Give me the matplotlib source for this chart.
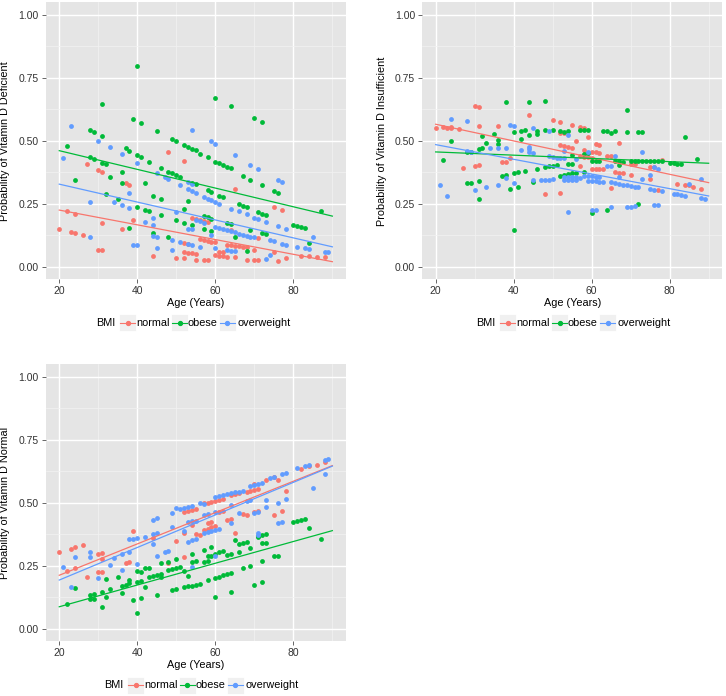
import numpy as np
import matplotlib
matplotlib.use('Agg')
import matplotlib.pyplot as plt
from matplotlib.patches import Rectangle
from matplotlib.lines import Line2D

plt.rcParams['font.family'] = ['Liberation Sans', 'DejaVu Sans']

## Data: (age, probability) per BMI group ##
groups = ['normal', 'obese', 'overweight']
colors = ['#F8766D', '#00BA38', '#619CFF']

# Panel 1: Vitamin D deficient
def_normal = [
    (20, .148), (22, .221), (23, .137), (24, .134), (24, .208), (26, .126), (27, .408),
    (30, .384), (31, .375), (30, .066), (31, .066), (31, .175), (36, .151), (37, .331), (38, .323),
    (39, .186), (44, .044), (48, .456), (52, .421),
    (50, .036), (52, .036), (52, .057), (53, .055), (54, .053), (55, .050), (52, .093), (53, .090),
    (55, .028), (57, .028), (58, .028),
    (54, .192), (55, .188), (56, .185), (57, .183), (58, .178), (56, .110), (57, .108), (58, .104),
    (59, .100), (60, .098),
    (60, .046), (61, .044), (62, .042), (63, .040), (61, .060), (62, .058), (63, .088), (64, .086),
    (65, .084), (66, .082), (67, .080),
    (64, .145), (65, .310), (65, .040), (68, .028), (70, .028), (71, .028), (68, .080), (70, .065),
    (71, .115), (75, .238), (77, .225), (75, .060), (76, .024), (78, .033), (82, .044), (84, .042),
    (86, .040), (88, .037)]
def_obese = [
    (22, .481), (24, .343), (28, .543), (29, .534), (28, .436), (29, .428), (31, .646), (31, .518),
    (31, .413), (32, .407), (32, .289), (33, .355), (35, .269), (36, .375), (36, .334), (37, .470),
    (38, .461), (38, .154), (39, .587), (40, .799), (40, .444), (41, .436), (41, .570), (40, .238),
    (42, .334), (43, .417), (42, .226), (43, .220), (44, .279), (44, .132), (45, .539), (46, .393),
    (46, .268), (46, .205),
    (48, .377), (49, .371), (50, .366), (51, .358), (48, .119), (49, .507), (50, .498), (50, .185),
    (52, .482), (53, .475), (54, .469), (55, .462), (56, .449), (52, .229), (53, .260), (52, .175),
    (54, .334), (55, .328), (54, .164),
    (58, .434), (57, .203), (58, .196), (59, .191), (57, .151), (58, .303), (59, .297), (59, .143),
    (60, .671), (60, .416), (61, .411), (62, .403), (63, .397), (64, .391), (61, .281), (62, .275),
    (64, .638), (63, .172), (64, .170), (65, .119),
    (66, .249), (67, .242), (68, .236), (67, .362), (68, .064), (69, .344), (69, .146), (70, .591),
    (71, .217), (72, .211), (73, .205), (72, .323), (72, .574), (72, .132), (73, .130),
    (75, .299), (76, .291), (80, .166), (81, .162), (82, .159), (83, .152), (84, .093), (87, .220)]
def_overweight = [
    (21, .433), (23, .559), (28, .257), (28, .119), (30, .499), (33, .474), (34, .257), (36, .448),
    (36, .245), (38, .294), (38, .232), (39, .087), (40, .085), (40, .413), (42, .176), (44, .195),
    (44, .167), (44, .122), (45, .117), (45, .073), (45, .371), (47, .355), (48, .348), (49, .066),
    (49, .106), (50, .216), (51, .098), (51, .324),
    (53, .336), (54, .328), (53, .309), (54, .301), (55, .294), (54, .544), (53, .151), (54, .148),
    (53, .089), (54, .086), (55, .185), (56, .180), (57, .175), (56, .077),
    (57, .278), (58, .270), (59, .265), (60, .257), (61, .250), (59, .499), (60, .489), (59, .126),
    (60, .159), (61, .154), (62, .148), (63, .146), (64, .140), (60, .073), (63, .066), (64, .064),
    (65, .061), (64, .230), (65, .442),
    (65, .136), (66, .131), (67, .126), (68, .123), (69, .119), (70, .117), (66, .220), (68, .209),
    (69, .405), (71, .387), (70, .195), (71, .189), (73, .176), (73, .029), (74, .046), (74, .106),
    (75, .101), (76, .344), (77, .336), (76, .162), (78, .151), (77, .090), (78, .086), (81, .077),
    (83, .073), (84, .070), (85, .119), (88, .058), (89, .058)]

# Panel 2: Vitamin D insufficient
ins_normal = [
    (20, .552), (22, .555), (23, .551), (24, .554), (24, .550), (26, .546), (27, .391), (30, .638),
    (31, .636), (31, .558), (30, .401), (31, .403), (36, .558), (37, .415), (38, .416), (39, .432),
    (44, .601), (48, .289), (50, .581), (52, .574), (52, .294),
    (52, .483), (53, .479), (54, .477), (55, .473), (52, .532), (53, .530), (55, .563), (56, .501),
    (57, .556), (58, .553), (58, .464), (59, .514),
    (57, .440), (58, .437), (59, .434), (60, .430), (61, .486), (62, .484), (60, .457), (61, .454),
    (62, .452), (64, .440), (65, .438), (67, .493),
    (57, .400), (60, .390), (61, .389), (62, .388), (63, .387), (66, .377), (67, .374), (68, .372),
    (70, .410), (71, .410), (70, .364), (65, .311),
    (75, .395), (76, .395), (75, .350), (77, .305), (78, .424), (82, .329), (84, .323), (85, .323),
    (86, .316), (88, .310)]
ins_obese = [
    (22, .425), (24, .500), (28, .331), (29, .332), (28, .454), (29, .456), (31, .269), (31, .340),
    (31, .468), (32, .470), (32, .520), (33, .493), (35, .527), (36, .503), (36, .486), (37, .360),
    (38, .366), (38, .656), (39, .307), (40, .371), (41, .375), (40, .535), (40, .146), (41, .318),
    (42, .507), (42, .540), (43, .543), (43, .381), (44, .656), (44, .523), (45, .338), (46, .540),
    (46, .526), (46, .390), (48, .657), (48, .543), (48, .397), (49, .401), (50, .543), (50, .401),
    (51, .405),
    (52, .540), (53, .537), (54, .540), (52, .362), (53, .365), (54, .368), (55, .371), (56, .374),
    (55, .445), (54, .408), (55, .408), (57, .543), (58, .543), (59, .543), (58, .377), (58, .448),
    (59, .450), (60, .212), (60, .419), (61, .419), (62, .419),
    (63, .540), (64, .540), (65, .532), (66, .540), (64, .225), (66, .420), (67, .418), (68, .416),
    (67, .405), (69, .623), (69, .537), (72, .248), (72, .534), (73, .534), (70, .418), (71, .418),
    (72, .420), (73, .420), (74, .420), (75, .420), (76, .420), (77, .420), (78, .420), (80, .412),
    (81, .411), (82, .410), (83, .410), (84, .514), (87, .426)]
ins_overweight = [
    (21, .324), (23, .282), (24, .587), (28, .579), (28, .461), (29, .457), (30, .305), (33, .315),
    (34, .470), (36, .470), (36, .323), (38, .473), (38, .352), (39, .563), (40, .560), (40, .334),
    (42, .464), (44, .476), (44, .466), (44, .457), (45, .550), (45, .450), (45, .344), (47, .344),
    (48, .345), (49, .346), (50, .348), (49, .538), (49, .438), (50, .434), (51, .432), (52, .432),
    (53, .430), (53, .460), (54, .523), (54, .216),
    (53, .356), (54, .356), (55, .356), (56, .356), (57, .354), (53, .345), (54, .345), (55, .345),
    (56, .344), (56, .427),
    (58, .360), (59, .359), (60, .359), (61, .356), (62, .356), (59, .340), (60, .339), (61, .339),
    (62, .338), (63, .338), (59, .457), (60, .225), (61, .225),
    (64, .400), (65, .400), (65, .237), (66, .331), (67, .328), (68, .326), (69, .323), (70, .321),
    (71, .318), (72, .315), (65, .335), (66, .440), (67, .357), (69, .238), (70, .238), (71, .241),
    (73, .457), (73, .348), (75, .363), (75, .307), (76, .304), (76, .395), (76, .246), (77, .246),
    (77, .387), (78, .302), (81, .290), (82, .288), (83, .285), (84, .282), (85, .327), (88, .347),
    (88, .273), (89, .270)]

# Panel 3: Vitamin D normal
nor_normal = [
    (20, .303), (23, .317), (24, .323), (26, .333), (22, .229), (24, .239), (27, .206), (30, .298),
    (31, .302), (30, .224), (31, .226), (31, .275), (37, .262), (38, .266), (39, .388), (44, .358),
    (48, .259), (50, .349), (52, .286), (52, .378),
    (52, .464), (53, .468), (54, .471), (55, .475), (54, .411), (55, .374), (56, .372), (57, .392),
    (58, .396), (58, .419), (59, .422), (59, .405), (60, .407),
    (57, .497), (58, .500), (59, .504), (60, .507), (61, .510), (62, .513), (61, .464), (62, .468),
    (63, .431), (64, .434), (65, .378), (64, .530), (65, .534), (66, .538),
    (67, .455), (68, .450), (68, .544), (69, .547), (70, .550), (71, .554), (70, .574), (70, .464),
    (71, .468), (73, .590), (75, .600), (76, .590), (75, .452), (77, .468), (78, .545), (82, .632),
    (84, .646), (86, .648), (88, .660)]
nor_obese = [
    (22, .097), (24, .160), (28, .134), (29, .136), (28, .119), (29, .119), (31, .087), (31, .146),
    (32, .127), (33, .156), (32, .196), (35, .206), (36, .169), (37, .173), (38, .180), (36, .143),
    (38, .193), (39, .114), (40, .230), (41, .226), (40, .061), (40, .187), (41, .190), (41, .120),
    (42, .167), (42, .239), (43, .242), (43, .204), (44, .208), (45, .212), (45, .134), (46, .217),
    (46, .204), (46, .259), (48, .266),
    (48, .233), (49, .236), (50, .240), (51, .243), (49, .153), (50, .156), (50, .276), (52, .229),
    (52, .167), (53, .169), (54, .171), (55, .173), (56, .176), (53, .208), (54, .266), (55, .269),
    (54, .296),
    (57, .312), (57, .266), (58, .270), (58, .288), (59, .288), (59, .323), (58, .193), (60, .296),
    (60, .127), (60, .202), (61, .207), (62, .212), (63, .217), (64, .222), (61, .306), (62, .310),
    (63, .292), (64, .295), (64, .144),
    (65, .352), (66, .306), (66, .336), (67, .340), (68, .345), (67, .239), (69, .320), (69, .250),
    (70, .173), (71, .369), (72, .372), (73, .376), (71, .362), (72, .339), (73, .340), (72, .269),
    (72, .184), (75, .287), (76, .290), (80, .422), (81, .427), (82, .432), (83, .437), (84, .398),
    (87, .357)]
nor_overweight = [
    (21, .246), (23, .164), (24, .283), (28, .303), (28, .283), (30, .200), (33, .253), (34, .282),
    (36, .296), (36, .233), (38, .306), (38, .357), (39, .356), (40, .358), (40, .257), (42, .362),
    (44, .431), (45, .438), (44, .374), (45, .381), (44, .336), (45, .288), (47, .304), (48, .308),
    (49, .460), (49, .403), (50, .480),
    (51, .474), (52, .480), (53, .484), (54, .487), (52, .388), (53, .425), (54, .427), (55, .429),
    (53, .345), (54, .350), (55, .354), (54, .243), (56, .500), (57, .493),
    (57, .378), (58, .382), (59, .386), (60, .390), (61, .394), (57, .452), (58, .455), (60, .524),
    (61, .528), (62, .532), (63, .536), (64, .540), (65, .544), (60, .464), (60, .288), (64, .490),
    (64, .420),
    (66, .544), (67, .548), (66, .460), (68, .508), (69, .511), (69, .566), (70, .570), (71, .573),
    (72, .577), (70, .458), (71, .462), (71, .378), (71, .372), (73, .511), (73, .484), (74, .597),
    (75, .601), (76, .500), (76, .418), (77, .422), (77, .614), (78, .619), (78, .513), (81, .636),
    (83, .646), (84, .650), (85, .557), (88, .670), (89, .675), (88, .614)]

# linear fit values at age 20 and age 90 (normal, obese, overweight)
fit_ages = [20, 90]
def_fit = [(0.225, 0.020), (0.461, 0.201), (0.328, 0.079)]
ins_fit = [(0.566, 0.334), (0.456, 0.411), (0.485, 0.281)]
nor_fit = [(0.212, 0.647), (0.087, 0.389), (0.193, 0.645)]

ylabels = ['Probability of Vitamin D Deficient',
           'Probability of Vitamin D Insufficient',
           'Probability of Vitamin D Normal']

## Figure layout (pixels) ##
W, H = 726, 696
fig = plt.figure(figsize=(W / 100, H / 100), dpi=100)

def axes_px(left, top, right, bottom):
    return fig.add_axes([left / W, 1 - bottom / H, (right - left) / W, (bottom - top) / H])

ax1 = axes_px(45.6, 2.4, 346, 279.3)
ax2 = axes_px(422, 2.4, 722.3, 279.3)
ax3 = axes_px(45.6, 364, 346, 641.3)

panels = [
    (ax1, [def_normal, def_obese, def_overweight], def_fit, ylabels[0], 96, 323),
    (ax2, [ins_normal, ins_obese, ins_overweight], ins_fit, ylabels[1], 476, 323),
    (ax3, [nor_normal, nor_obese, nor_overweight], nor_fit, ylabels[2], 104, 685),
]

def style(ax, ylabel):
    ax.set_facecolor('#E5E5E5')
    for s in ax.spines.values():
        s.set_visible(False)
    ax.set_xlim(16.5, 93.5)
    ax.set_ylim(-0.05, 1.05)
    ax.set_xticks([20, 40, 60, 80])
    ax.set_xticks([30, 50, 70, 90], minor=True)
    ax.set_yticks([0, 0.25, 0.5, 0.75, 1.0])
    ax.set_yticks([0.125, 0.375, 0.625, 0.875], minor=True)
    ax.set_yticklabels(['0.00', '0.25', '0.50', '0.75', '1.00'])
    ax.grid(which='major', color='white', lw=1.0)
    ax.grid(which='minor', color='#F2F2F2', lw=0.5)
    ax.set_axisbelow(True)
    ax.tick_params(which='major', length=3, width=0.6, color='#4D4D4D',
                   labelsize=7.5, labelcolor='#333333', pad=2)
    ax.tick_params(which='minor', length=0)
    ax.set_xlabel('Age (Years)', fontsize=7.8)
    ax.set_ylabel(ylabel, fontsize=7.8)
    ax.xaxis.set_label_coords(0.5, -0.086)
    ax.xaxis.label.set_va('center')
    ax.yaxis.set_label_coords(-0.134, 0.5)
    ax.yaxis.label.set_va('center')

def draw_legend(x0, yc):
    y = 1 - yc / H
    fig.text(x0 / W, y, 'BMI', ha='left', va='center', fontsize=7.8)
    offsets = [(23, 40), (75, 92), (123, 141)]
    for (kx, tx), name, col in zip(offsets, groups, colors):
        fig.add_artist(Rectangle(((x0 + kx) / W, 1 - (yc + 8.5) / H), 17 / W, 17 / H,
                                 transform=fig.transFigure, facecolor='#F0F0F0',
                                 edgecolor='white', lw=0.6))
        fig.add_artist(Line2D([(x0 + kx + 1) / W, (x0 + kx + 16) / W], [y, y],
                              transform=fig.transFigure, color=col, lw=0.8))
        fig.add_artist(Line2D([(x0 + kx + 8.5) / W], [y], marker='o', ms=2.8, lw=0,
                              color=col, transform=fig.transFigure))
        fig.text((x0 + tx) / W, y, name, ha='left', va='center', fontsize=7.8)

for ax, series, fits, ylabel, lx, ly in panels:
    style(ax, ylabel)
    for pts, col in zip(series, colors):
        a = np.array(pts)
        ax.scatter(a[:, 0], a[:, 1], s=12, color=col, lw=0, zorder=3)
    for (y20, y90), col in zip(fits, colors):
        ax.plot(fit_ages, [y20, y90], color=col, lw=0.9, zorder=4)
    draw_legend(lx, ly)

fig.savefig('out.png', dpi=100)
